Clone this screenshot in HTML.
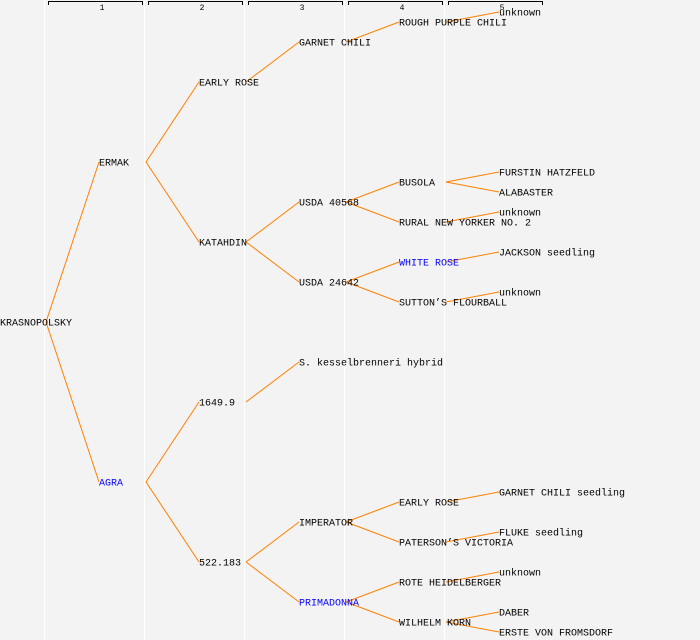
<!DOCTYPE html>
<html><head><meta charset="utf-8"><style>
html,body{margin:0;padding:0;background:#f3f3f3;width:700px;height:640px;overflow:hidden}
text{font-family:"Liberation Mono",monospace;font-size:10px;fill:#000}
.b{fill:#0000ff}
</style></head><body>
<svg width="700" height="640" xmlns="http://www.w3.org/2000/svg">
<rect width="700" height="640" fill="#f3f3f3"/>
<g stroke="#fff" stroke-width="1">
<line x1="44.5" y1="0" x2="44.5" y2="640"/><line x1="144.5" y1="0" x2="144.5" y2="640"/><line x1="244.5" y1="0" x2="244.5" y2="640"/><line x1="344.5" y1="0" x2="344.5" y2="640"/><line x1="444.5" y1="0" x2="444.5" y2="640"/>
</g>
<g stroke="#000" fill="none" stroke-width="1">
<path d="M48.5 5V1.5H142.5V5"/><path d="M148.5 5V1.5H242.5V5"/><path d="M248.5 5V1.5H342.5V5"/><path d="M348.5 5V1.5H442.5V5"/><path d="M448.5 5V1.5H542.5V5"/>
</g>
<g text-anchor="middle">
<text x="102" y="10" style="font-size:8px">1</text><text x="202" y="10" style="font-size:8px">2</text><text x="302" y="10" style="font-size:8px">3</text><text x="402" y="10" style="font-size:8px">4</text><text x="502" y="10" style="font-size:8px">5</text>
</g>
<g stroke="#ff8000" stroke-width="1" fill="none">
<line x1="46" y1="322" x2="99" y2="162"/><line x1="46" y1="322" x2="99" y2="482"/>
<line x1="146" y1="162" x2="199" y2="82"/><line x1="146" y1="162" x2="199" y2="242"/>
<line x1="146" y1="482" x2="199" y2="402"/><line x1="146" y1="482" x2="199" y2="562"/>
<line x1="246" y1="82" x2="299" y2="42"/>
<line x1="246" y1="242" x2="299" y2="202"/><line x1="246" y1="242" x2="299" y2="282"/>
<line x1="246" y1="402" x2="299" y2="362"/>
<line x1="246" y1="562" x2="299" y2="522"/><line x1="246" y1="562" x2="299" y2="602"/>
<line x1="346" y1="42" x2="399" y2="22"/>
<line x1="346" y1="202" x2="399" y2="182"/><line x1="346" y1="202" x2="399" y2="222"/>
<line x1="346" y1="282" x2="399" y2="262"/><line x1="346" y1="282" x2="399" y2="302"/>
<line x1="346" y1="522" x2="399" y2="502"/><line x1="346" y1="522" x2="399" y2="542"/>
<line x1="346" y1="602" x2="399" y2="582"/><line x1="346" y1="602" x2="399" y2="622"/>
<line x1="446" y1="22" x2="499" y2="12"/>
<line x1="446" y1="182" x2="499" y2="172"/><line x1="446" y1="182" x2="499" y2="192"/>
<line x1="446" y1="222" x2="499" y2="212"/>
<line x1="446" y1="262" x2="499" y2="252"/>
<line x1="446" y1="302" x2="499" y2="292"/>
<line x1="446" y1="502" x2="499" y2="492"/>
<line x1="446" y1="542" x2="499" y2="532"/>
<line x1="446" y1="582" x2="499" y2="572"/>
<line x1="446" y1="622" x2="499" y2="612"/><line x1="446" y1="622" x2="499" y2="632"/>
</g>
<g dominant-baseline="central" transform="translate(0,2)">
<text x="0" y="322">KRASNOPOLSKY</text>
<text x="99" y="162">ERMAK</text><text x="99" y="482" class="b">AGRA</text>
<text x="199" y="82">EARLY ROSE</text><text x="199" y="242">KATAHDIN</text><text x="199" y="402">1649.9</text><text x="199" y="562">522.183</text>
<text x="299" y="42">GARNET CHILI</text><text x="299" y="202">USDA 40568</text><text x="299" y="282">USDA 24642</text><text x="299" y="362">S. kesselbrenneri hybrid</text><text x="299" y="522">IMPERATOR</text><text x="299" y="602" class="b">PRIMADONNA</text>
<text x="399" y="22">ROUGH PURPLE CHILI</text><text x="399" y="182">BUSOLA</text><text x="399" y="222">RURAL NEW YORKER NO. 2</text><text x="399" y="262" class="b">WHITE ROSE</text><text x="399" y="302">SUTTON’S FLOURBALL</text><text x="399" y="502">EARLY ROSE</text><text x="399" y="542">PATERSON’S VICTORIA</text><text x="399" y="582">ROTE HEIDELBERGER</text><text x="399" y="622">WILHELM KORN</text>
<text x="499" y="12">unknown</text><text x="499" y="172">FURSTIN HATZFELD</text><text x="499" y="192">ALABASTER</text><text x="499" y="212">unknown</text><text x="499" y="252">JACKSON seedling</text><text x="499" y="292">unknown</text><text x="499" y="492">GARNET CHILI seedling</text><text x="499" y="532">FLUKE seedling</text><text x="499" y="572">unknown</text><text x="499" y="612">DABER</text><text x="499" y="632">ERSTE VON FROMSDORF</text>
</g>
</svg>
</body></html>
